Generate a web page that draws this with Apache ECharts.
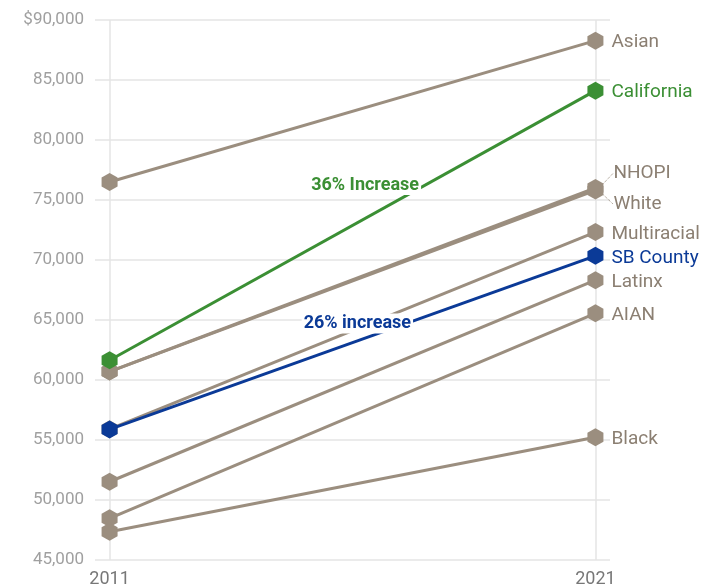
<!DOCTYPE html>
<html>
<head>
<meta charset="utf-8">
<script src="https://cdn.jsdelivr.net/npm/echarts@6/dist/echarts.min.js"></script>
<style>
  html, body { margin: 0; padding: 0; background: #fff; }
  #chart { width: 717px; height: 586px; }
</style>
</head>
<body>
<div id="chart"></div>
<script>
// Median household income by group, 2011 vs 2021
const years = [2011, 2021];
const groups = ['Asian', 'California', 'NHOPI', 'White', 'Multiracial', 'SB County', 'Latinx', 'AIAN', 'Black'];
const income2011 = [76500, 61650, 60700, 60700, 55900, 55880, 51520, 48470, 47360];
const income2021 = [88280, 84110, 76000, 75800, 72330, 70350, 68320, 65560, 55230];
const yTicks = [45000, 50000, 55000, 60000, 65000, 70000, 75000, 80000, 85000, 90000];

const GREY = '#9b8e7f';
const GREY_TEXT = '#8b7f72';
const GREEN = '#3b8f34';
const BLUE = '#0b3a97';
const FONT = 'Roboto';

const hexagon = 'path://M0,-1 L0.866,-0.5 L0.866,0.5 L0,1 L-0.866,0.5 L-0.866,-0.5 Z';

function colorOf(name) {
  if (name === 'California') return GREEN;
  if (name === 'SB County') return BLUE;
  return GREY;
}
function textColorOf(name) {
  if (name === 'California') return GREEN;
  if (name === 'SB County') return BLUE;
  return GREY_TEXT;
}

const series = groups.map((name, i) => {
  const c = colorOf(name);
  const s = {
    name: name,
    type: 'line',
    z: name === 'California' || name === 'SB County' ? 4 : 3,
    symbol: hexagon,
    symbolSize: [16, 18],
    showSymbol: true,
    lineStyle: { color: c, width: 3 },
    itemStyle: { color: c },
    emphasis: { disabled: true },
    data: [
      [years[0], income2011[i]],
      {
        value: [years[1], income2021[i]],
        label: {
          show: true,
          position: 'right',
          distance: 8,
          offset: [0, 2],
          formatter: name,
          color: textColorOf(name),
          fontFamily: FONT,
          fontSize: 19
        }
      }
    ]
  };
  if (name === 'NHOPI' || name === 'White') {
    s.labelLayout = { dy: name === 'NHOPI' ? -15 : 14, dx: 2 };
    s.labelLine = { show: true, length2: 0, lineStyle: { color: GREY, width: 1, type: 'dotted' } };
  }
  return s;
});

// growth annotations sitting on the California and county lines
function note(text, color, coord) {
  return {
    silent: true,
    animation: false,
    data: [{
      coord: coord,
      symbol: 'circle',
      symbolSize: 1,
      itemStyle: { color: 'rgba(0,0,0,0)' },
      label: {
        show: true,
        position: 'inside',
        formatter: text,
        color: color,
        fontFamily: FONT,
        fontWeight: 'bold',
        fontSize: 18,
        backgroundColor: '#fff',
        padding: [1, 2]
      }
    }]
  };
}
series[1].markPoint = note('36% Increase', GREEN, [2016.26, 76250]);
series[5].markPoint = note('26% increase', BLUE, [2016.1, 64700]);

// vertical guides at the two survey years, kept beneath the lines
series.push({
  type: 'line',
  z: 1,
  data: [],
  silent: true,
  markLine: {
    z: 1,
    symbol: 'none',
    silent: true,
    label: { show: false },
    lineStyle: { color: '#e4e4e4', width: 1.5, type: 'solid' },
    data: years.map(y => ({ xAxis: y }))
  }
});

const chart = echarts.init(document.getElementById('chart'));
chart.setOption({
  animation: false,
  grid: { left: 95, right: 107, top: 20, bottom: 26, outerBoundsMode: 'none' },
  xAxis: {
    type: 'value',
    min: 2010.7,
    max: 2021.3,
    axisLine: { show: false },
    axisTick: { show: false },
    splitLine: { show: false },
    axisLabel: {
      customValues: years,
      formatter: v => String(v),
      color: '#777',
      fontFamily: FONT,
      fontSize: 18,
      margin: 10
    }
  },
  yAxis: {
    type: 'value',
    min: yTicks[0],
    max: yTicks[yTicks.length - 1],
    interval: 5000,
    axisLine: { show: false },
    axisTick: { show: false },
    splitLine: { lineStyle: { color: '#e4e4e4', width: 1.5 } },
    axisLabel: {
      color: '#a0a0a0',
      fontFamily: FONT,
      fontSize: 17,
      margin: 11,
      formatter: v => (v === 90000 ? '$' : '') + v.toLocaleString('en-US')
    }
  },
  series: series
});
</script>
</body>
</html>
